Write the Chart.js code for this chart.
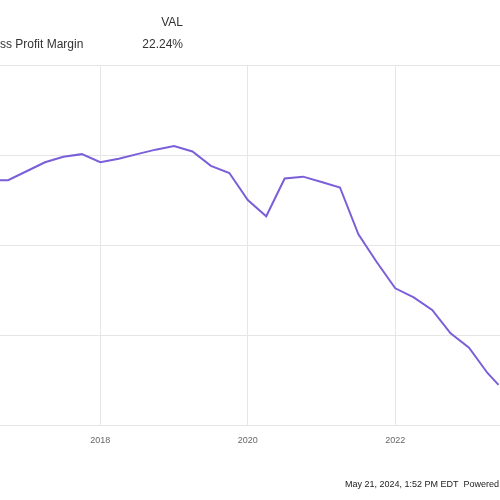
<!DOCTYPE html>
<html>
<head>
<meta charset="utf-8">
<script src="https://cdn.jsdelivr.net/npm/chart.js@4"></script>
<style>
  html, body { margin: 0; padding: 0; background: #fff; }
  #wrap { width: 500px; height: 500px; }
</style>
</head>
<body>
<div id="wrap"><canvas id="myChart" width="500" height="500"></canvas></div>
<script>
// quarterly dates (decimal years) and gross profit margin (%)
const dates = [2016.5, 2016.75, 2017.0, 2017.25, 2017.5, 2017.75, 2018.0, 2018.25, 2018.5, 2018.75,
  2019.0, 2019.25, 2019.5, 2019.75, 2020.0, 2020.25, 2020.5, 2020.75, 2021.0, 2021.25,
  2021.5, 2021.75, 2022.0, 2022.25, 2022.5, 2022.75, 2023.0, 2023.25, 2023.4];
const margin = [33.6, 33.6, 34.1, 34.6, 34.9, 35.05, 34.6, 34.8, 35.05, 35.3,
  35.5, 35.2, 34.4, 34.0, 32.5, 31.6, 33.7, 33.8, 33.5, 33.2,
  30.6, 29.05, 27.6, 27.1, 26.4, 25.1, 24.3, 22.9, 22.24];
const xTicks = [2018, 2020, 2022];
const yTicks = [20, 25, 30, 35, 40];

const header = {
  id: "header",
  afterDraw(chart) {
    const c = chart.ctx;
    c.save();
    c.font = "12px 'Liberation Sans', Arial, sans-serif";
    c.fillStyle = "#333";
    c.textBaseline = "middle";
    c.textAlign = "right";
    c.fillText("VAL", 183, 23);
    c.fillText("22.24%", 183, 45);
    c.textAlign = "left";
    c.fillText("Gross Profit Margin", -20, 45);
    c.font = "9px 'Liberation Sans', Arial, sans-serif";
    c.fillStyle = "#222";
    c.fillText("May 21, 2024, 1:52 PM EDT  Powered by YCharts", 345, 485);
    c.restore();
  }
};

const ctx = document.getElementById("myChart").getContext("2d");
new Chart(ctx, {
  type: "line",
  data: {
    datasets: [{
      label: "VAL Gross Profit Margin",
      data: dates.map((d, i) => ({ x: d, y: margin[i] })),
      borderColor: "#7b5fd9",
      borderWidth: 2,
      pointRadius: 0,
      tension: 0
    }]
  },
  options: {
    animation: false,
    responsive: false,
    layout: { padding: { top: 65, bottom: 44, left: 0, right: 0 } },
    plugins: { legend: { display: false }, tooltip: { enabled: false } },
    scales: {
      x: {
        type: "linear",
        min: 2016.64,
        max: 2023.42,
        afterBuildTicks: (axis) => { axis.ticks = xTicks.map(v => ({ value: v })); },
        grid: { color: "#e6e6e6", drawTicks: false },
        border: { display: false },
        ticks: { color: "#666", font: { size: 9 }, padding: 10, callback: v => String(v) }
      },
      y: {
        min: 20,
        max: 40,
        afterBuildTicks: (axis) => { axis.ticks = yTicks.map(v => ({ value: v })); },
        grid: { color: "#e6e6e6", drawTicks: false },
        border: { display: false },
        ticks: { display: false }
      }
    }
  },
  plugins: [header]
});
</script>
</body>
</html>
